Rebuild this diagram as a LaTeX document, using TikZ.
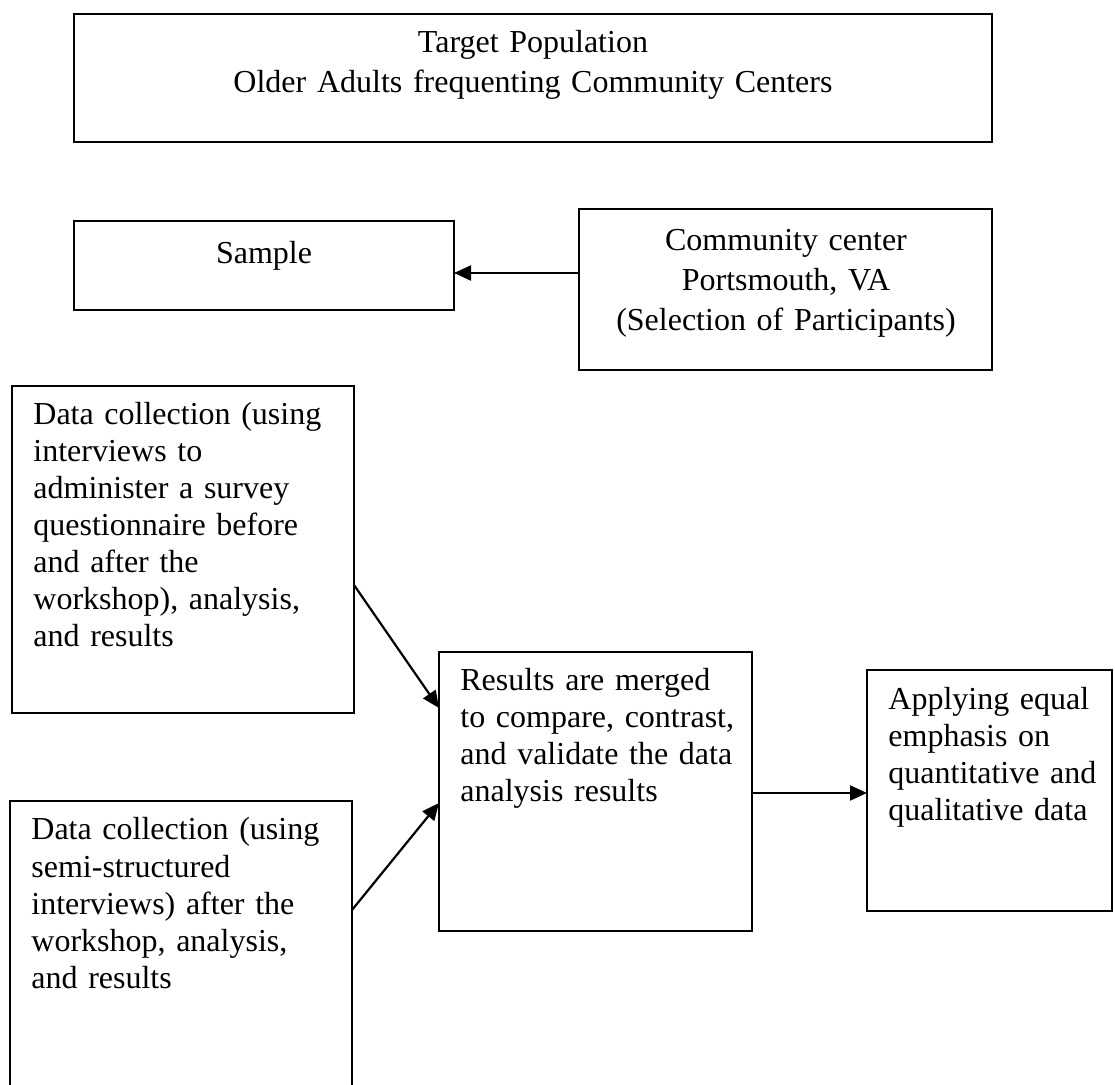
\documentclass[tikz,border=0pt]{standalone}
\usepackage{fontspec}
\setmainfont{Liberation Serif}
\usetikzlibrary{arrows.meta,calc}
\begin{document}
\begin{tikzpicture}[x=0.5pt,y=-0.5pt,
  box/.style={draw=black,line width=1pt,inner sep=0pt,outer sep=0pt},
  txt/.style={inner sep=0pt,font=\fontsize{16}{18.5}\selectfont,text width=200pt,align=left,anchor=base west},
  ctxt/.style={inner sep=0pt,font=\fontsize{16}{20}\selectfont,text width=440pt,align=center,anchor=base},
  arr/.style={line width=1.1pt,-{Triangle[length=8.5pt,width=7.5pt]}}
]
\useasboundingbox (0,0) rectangle (1115,1085);
\fill[white] (0,0) rectangle (1115,1085);

% boxes
\node[box,minimum width=459pt,minimum height=64pt] (target) at (533,78) {};
\node[box,minimum width=190pt,minimum height=44.5pt] (sample) at (264,265.5) {};
\node[box,minimum width=206.5pt,minimum height=80.5pt] (community) at (785.5,289.5) {};
\node[box,minimum width=171pt,minimum height=163.5pt] (dc1) at (183,549.5) {};
\node[box,minimum width=171pt,minimum height=149.5pt] (dc2) at (181,950.5) {};
\node[box,minimum width=156.5pt,minimum height=139.5pt] (results) at (595.5,791.5) {};
\node[box,minimum width=122.5pt,minimum height=120.5pt] (applying) at (989.5,790.5) {};

% texts
\node[ctxt] (targettxt) at (533,53) {Target Population\\Older Adults frequenting Community Centers};
\node[ctxt] (sampletxt) at (264,264) {Sample};
\node[ctxt] (communitytxt) at (786,251) {Community center\\Portsmouth, VA\\(Selection of Participants)};
\node[txt] (dc1txt) at (33,425) {Data collection (using\\interviews to\\administer a survey\\questionnaire before\\and after the\\workshop), analysis,\\and results};
\node[txt] (dc2txt) at (31,840) {Data collection (using\\semi-structured\\interviews) after the\\workshop, analysis,\\and results};
\node[txt] (resultstxt) at (460,690) {Results are merged\\to compare, contrast,\\and validate the data\\analysis results};
\node[txt] (applyingtxt) at (888,710) {Applying equal\\emphasis on\\quantitative and\\qualitative data};

% connectors
\draw[arr] ($(community.west)+(0,-16.5)$) -- ($(sample.east)+(0,7.5)$);
\draw[arr] ($(dc1.east)+(0,35.5)$) -- ($(results.west)+(0,-83.5)$);
\draw[arr] ($(dc2.east)+(0,-40.5)$) -- ($(results.west)+(0,11.5)$);
\draw[arr] ($(results.east)+(0,1.5)$) -- ($(applying.west)+(0,2.5)$);
\end{tikzpicture}
\end{document}
